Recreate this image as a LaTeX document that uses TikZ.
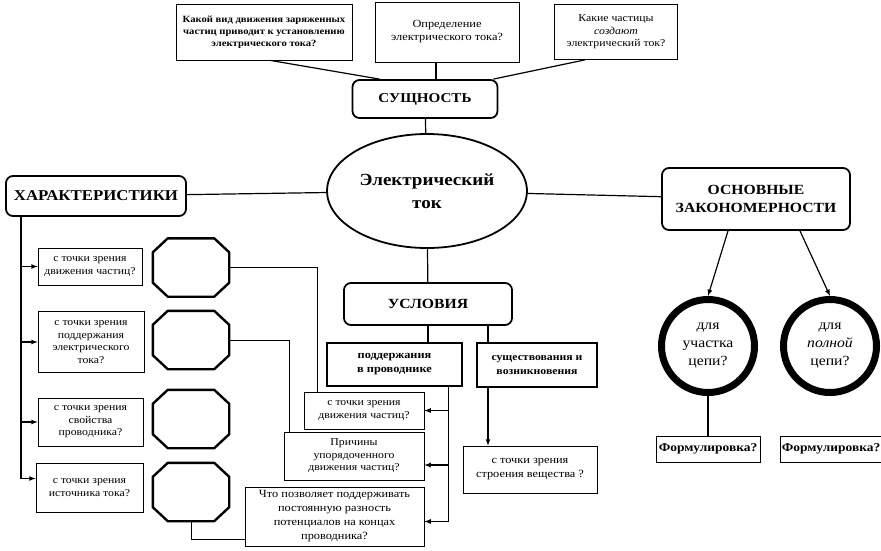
\documentclass[tikz,border=0pt]{standalone}
\usepackage{fontspec}
\setmainfont{Liberation Serif}[FakeStretch=1.12]
\usetikzlibrary{shapes,arrows,positioning,calc}

\begin{document}
\begin{tikzpicture}[
    x=1pt, y=-1pt,
    ask/.style={draw, rectangle, line width=0.7pt, align=center, inner sep=1pt, font=\fontsize{10.5}{12.5}\selectfont},
    head/.style={draw, rectangle, rounded corners=7pt, line width=1.8pt, align=center, inner sep=2pt, font=\bfseries\fontsize{14}{18}\selectfont},
    octa/.style={rectangle, minimum width=76pt, minimum height=58pt, inner sep=0pt},
    law/.style={draw, circle, line width=7pt, minimum size=93pt, align=center, inner sep=0pt, font=\fontsize{14}{18}\selectfont}
]
    \useasboundingbox (0,0) rectangle (881,550);

    \node[ask, font=\bfseries\fontsize{9.5}{12}\selectfont, minimum width=176pt, minimum height=56pt] (q1) at (264,32) {Какой вид движения заряженных\\частиц приводит к установлению\\электрического тока?};
    \node[ask, font=\fontsize{11}{13}\selectfont, minimum width=144pt, minimum height=60pt] (q2) at (447,32) {Определение\\электрического тока?};
    \node[ask, minimum width=123pt, minimum height=55pt] (q3) at (616,32) {Какие частицы\\\textit{создают}\\электрический ток?};
    \node[head, font=\bfseries\fontsize{13.5}{18}\selectfont, minimum width=145pt, minimum height=38pt] (essence) at (425,99) {СУЩНОСТЬ};

    \node[draw, ellipse, line width=1.8pt, minimum width=198pt, minimum height=114pt, align=center, font=\bfseries\fontsize{17}{23}\selectfont] (current) at (427,191) {Электрический\\ток};
    \node[head, font=\bfseries\fontsize{15}{18}\selectfont, minimum width=180pt, minimum height=40pt] (char) at (96,196) {ХАРАКТЕРИСТИКИ};
    \node[head, minimum width=168pt, minimum height=42pt] (conditions) at (428,304) {УСЛОВИЯ};
    \node[head, minimum width=188pt, minimum height=62pt] (laws) at (756,199) {ОСНОВНЫЕ\\ЗАКОНОМЕРНОСТИ};

    \node[ask, line width=1.4pt, font=\bfseries\fontsize{11}{14}\selectfont, minimum width=135pt, minimum height=43pt] (support) at (394.5,364.5) {поддержания\\в проводнике};
    \node[ask, line width=1.4pt, font=\bfseries\fontsize{10.5}{14}\selectfont, minimum width=120pt, minimum height=44pt] (existence) at (537,365) {существования и\\возникновения};
    \node[ask, font=\fontsize{11}{14}\selectfont, minimum width=134pt, minimum height=47pt] (structure) at (530,469.5) {с точки зрения\\строения вещества ?};

    \node[law] (partA) at (708,346) {для\\участка\\цепи?};
    \node[law] (partB) at (830,346) {для\\\textit{полной}\\цепи?};
    \node[ask, font=\bfseries\fontsize{12}{14}\selectfont, minimum width=104pt, minimum height=26pt] (formA) at (708,449) {Формулировка?};
    \node[ask, font=\bfseries\fontsize{12}{14}\selectfont, minimum width=97pt, minimum height=26pt] (formB) at (831,449) {Формулировка?};

    \node[ask, minimum width=104pt, minimum height=37pt] (view1) at (90,266.5) {с точки зрения\\движения частиц?};
    \node[ask, minimum width=106pt, minimum height=61pt] (view2) at (91,342) {с точки зрения\\поддержания\\электрического\\тока?};
    \node[ask, minimum width=105pt, minimum height=48pt] (view3) at (90.5,422) {с точки зрения\\свойства\\проводника?};
    \node[ask, minimum width=107pt, minimum height=49pt] (view4) at (89.5,487.5) {с точки зрения\\источника тока?};

    \node[octa] (oct1) at (191,267.5) {};
    \node[octa] (oct2) at (191,340) {};
    \node[octa] (oct3) at (191,419) {};
    \node[octa] (oct4) at (191,492) {};
    \foreach \o in {oct1,oct2,oct3,oct4}
        \draw[line width=2.4pt, line join=round] ([xshift=15pt]\o.north west) -- ([xshift=-15pt]\o.north east) -- ([yshift=-14pt]\o.north east) -- ([yshift=14pt]\o.south east) -- ([xshift=-15pt]\o.south east) -- ([xshift=15pt]\o.south west) -- ([yshift=14pt]\o.south west) -- ([yshift=-14pt]\o.north west) -- cycle;

    \node[ask, minimum width=120pt, minimum height=37pt] (motion) at (364,410.5) {с точки зрения\\движения частиц?};
    \node[ask, minimum width=140pt, minimum height=48pt] (cause) at (354,456) {Причины\\упорядоченного\\движения частиц?};
    \node[ask, font=\fontsize{11}{14}\selectfont, minimum width=179pt, minimum height=59pt] (keep) at (334.5,516.5) {Что позволяет поддерживать\\постоянную разность\\потенциалов на концах\\проводника?};

    \draw[very thick] ([xshift=6pt]q1.south) -- ([xshift=28pt]essence.north west);
    \draw[very thick] ([xshift=11pt]essence.north) -- ([xshift=11pt]essence.north |- q2.south);
    \draw[very thick] ([xshift=-31pt]q3.south) -- ([xshift=-5pt]essence.north east);
    \draw[very thick] (essence) -- (current);
    \draw[very thick] (char) -- (current);
    \draw[very thick] (current) -- (laws);
    \draw[very thick] (current) -- (conditions);
    \draw[very thick] (conditions.south) -- (conditions.south |- support.north);
    \draw[very thick] ([xshift=-49pt]existence.north) -- ([xshift=-49pt]existence.north |- conditions.south);
    \draw[-latex, very thick] ([xshift=-49pt]existence.south) -- ([xshift=-49pt]existence.south |- structure.north);
    \draw[-latex, very thick] ([xshift=-28pt]laws.south) -- (partA.north);
    \draw[-latex, very thick] ([xshift=44pt]laws.south) -- (partB.north);
    \draw[very thick] (partA) -- (formA);

    \foreach \v in {view1,view2,view3}
        \draw[-latex, very thick] ([xshift=-75pt]char.south) |- (\v);
    \draw[-latex, very thick] ([xshift=-75pt]char.south) |- ([yshift=9pt]view4.west);

    \draw[thick] (oct1) -| ([xshift=-47pt]motion.north);
    \draw[thick] (oct2) -| ([xshift=-65pt]cause.north);
    \draw[thick] (oct4) |- ([yshift=-23pt]keep.west);

    \draw[-latex, very thick] ([xshift=54pt]support.south) |- (motion);
    \draw[-latex, very thick] ([xshift=54pt]support.south) |- ([yshift=-9pt]cause.east);
    \draw[-latex, very thick] ([xshift=54pt]support.south) |- ([yshift=-5pt]keep.east);
\end{tikzpicture}
\end{document}
